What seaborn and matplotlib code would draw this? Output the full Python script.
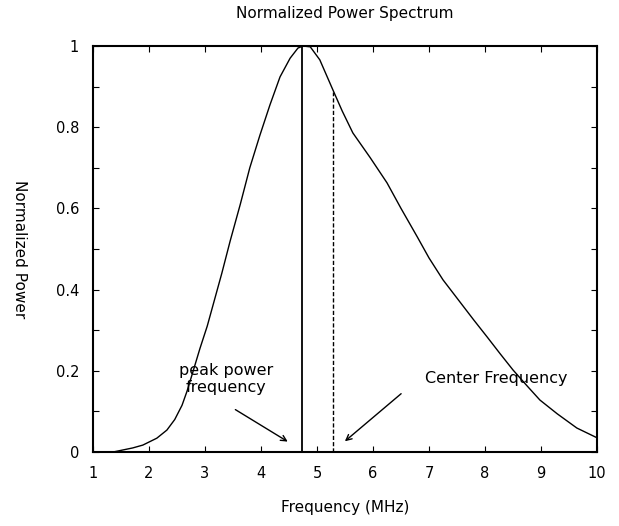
import numpy as np
import pandas as pd
import seaborn as sns
import matplotlib.pyplot as plt

# values
freq = [1.0, 1.36, 1.71, 1.89, 2.14, 2.32, 2.46, 2.59, 2.68, 2.79, 2.91, 3.04,
        3.18, 3.3, 3.45, 3.63, 3.8, 3.98, 4.16, 4.34, 4.52, 4.66, 4.75, 4.88,
        5.05, 5.23, 5.29, 5.45, 5.64, 5.95, 6.25, 6.5, 6.79, 7.0, 7.25, 7.55,
        7.8, 8.04, 8.27, 8.5, 8.75, 8.98, 9.29, 9.64, 10.0]
power = [0.0, 0.0, 0.01, 0.017, 0.034, 0.054, 0.08, 0.115, 0.15, 0.2, 0.255,
         0.31, 0.38, 0.44, 0.52, 0.61, 0.7, 0.78, 0.855, 0.924, 0.97, 0.995,
         1.0, 0.998, 0.966, 0.909, 0.89, 0.84, 0.786, 0.725, 0.663, 0.6, 0.53,
         0.478, 0.424, 0.37, 0.325, 0.283, 0.242, 0.202, 0.163, 0.128, 0.094,
         0.059, 0.035]
peak_freq = 4.73
center_freq = 5.28
center_power = 0.887

x_ticks = list(range(1, 11))
y_ticks = [0, 0.2, 0.4, 0.6, 0.8, 1.0]
y_tick_labels = ['0', '0.2', '0.4', '0.6', '0.8', '1']

df = pd.DataFrame({'Frequency': freq, 'Power': power})

sns.set_style('ticks')
plt.rcParams['font.family'] = ['DejaVu Sans']
plt.rcParams['text.color'] = 'black'
plt.rcParams['axes.labelcolor'] = 'black'
plt.rcParams['xtick.color'] = 'black'
plt.rcParams['ytick.color'] = 'black'
plt.rcParams['axes.edgecolor'] = 'black'

fig = plt.figure(figsize=(6.19, 5.26), dpi=100)
ax = fig.add_axes([0.1502, 0.1407, 0.8143, 0.7718])

sns.lineplot(data=df, x='Frequency', y='Power', ax=ax, color='black', linewidth=1.0)
ax.vlines(peak_freq, 0, 1, color='black', linewidth=1.3)
ax.vlines(center_freq, 0, center_power, color='black', linewidth=1.0,
          linestyles=(0, (3, 1.5)))

ax.set_xlim(1, 10)
ax.set_ylim(0, 1)
ax.set_xticks(x_ticks)
ax.set_yticks(y_ticks)
ax.set_yticklabels(y_tick_labels)
ax.set_yticks(np.arange(0.1, 1.0, 0.2), minor=True)
ax.tick_params(which='both', direction='in', top=True, right=True, length=4,
               width=0.8, labelsize=10.5, pad=10)
for s in ax.spines.values():
    s.set_linewidth(1.5)

ax.set_title('Normalized Power Spectrum', fontsize=11, pad=20)
ax.set_xlabel('Frequency (MHz)', fontsize=11, labelpad=14)
ax.set_ylabel('Normalized Power', fontsize=11, rotation=270, va='center')
ax.yaxis.set_label_coords(-0.145, 0.5)

ax.annotate('', xy=(4.52, 0.022), xytext=(3.5, 0.108),
            arrowprops=dict(arrowstyle='->', color='black', lw=1.0))
ax.annotate('', xy=(5.46, 0.022), xytext=(6.54, 0.148),
            arrowprops=dict(arrowstyle='->', color='black', lw=1.0))
ax.text(3.38, 0.18, 'peak power\nfrequency', ha='center', va='center',
        fontsize=11.5, linespacing=1.1)
ax.text(8.2, 0.182, 'Center Frequency', ha='center', va='center', fontsize=11.5)

plt.savefig('out.png', dpi=100)
